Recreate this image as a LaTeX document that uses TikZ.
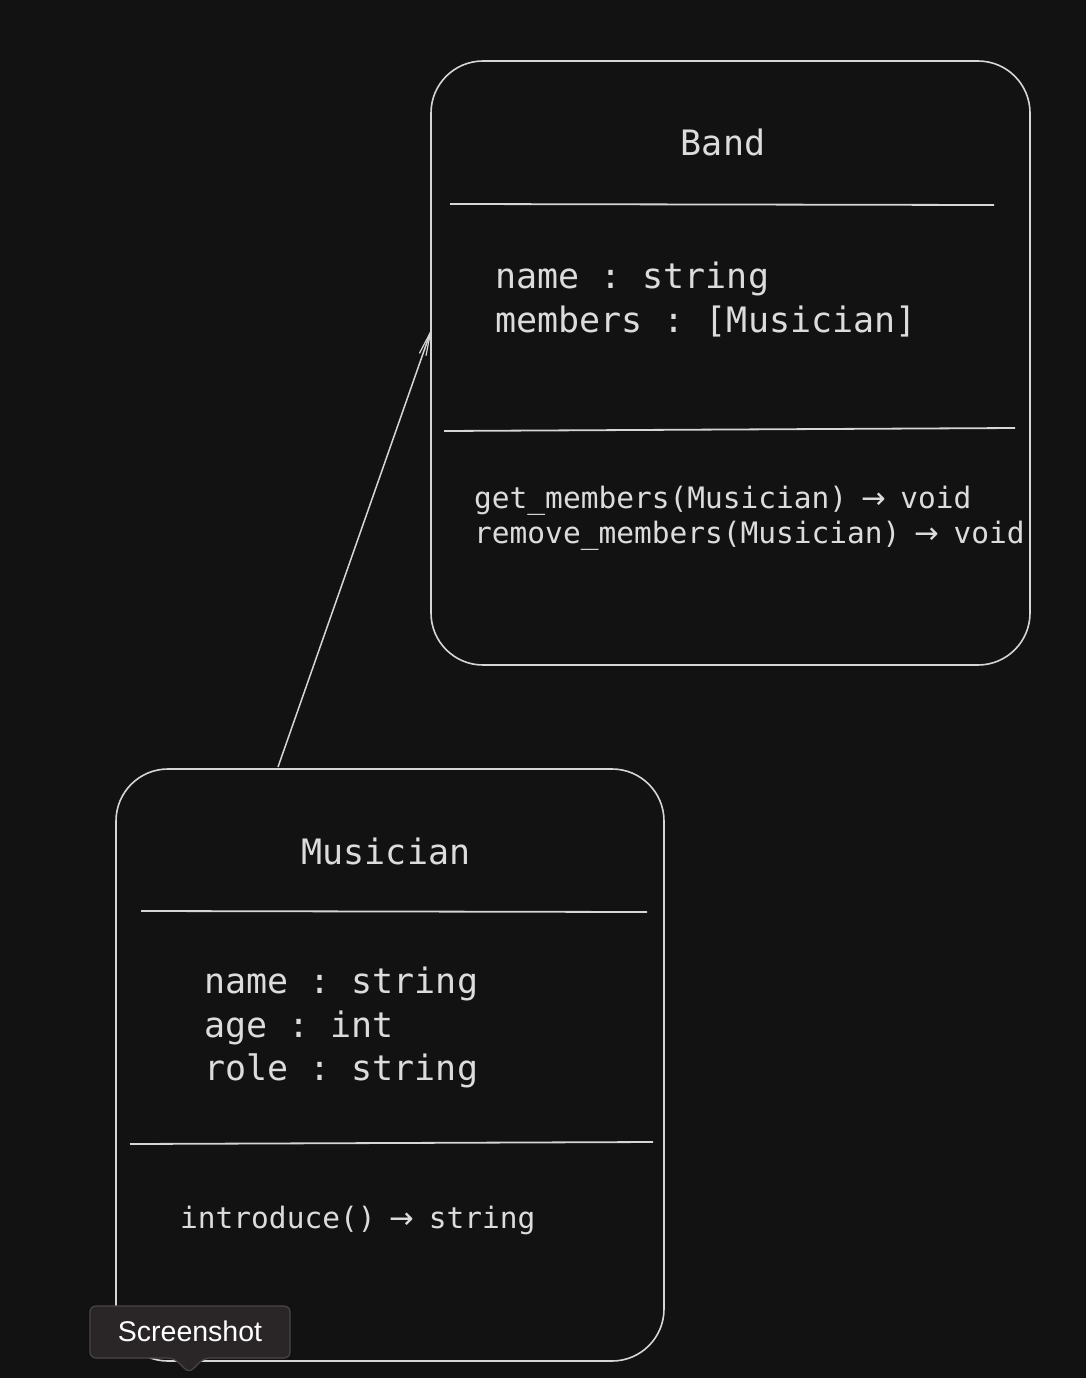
\documentclass[tikz,border=0pt]{standalone}
\usepackage{fontspec}
\setmonofont{DejaVu Sans Mono}
\newfontfamily\tipfont{Liberation Sans}
\newfontfamily\arrowfont{DejaVu Sans}
\usetikzlibrary{arrows.meta}
\definecolor{bg}{HTML}{121212}
\definecolor{ink}{HTML}{D6D6D6}
\definecolor{txt}{HTML}{DCDCDC}
\definecolor{tipfill}{HTML}{2A2627}
\definecolor{tipedge}{HTML}{4A4647}
\newcommand{\retarrow}{\makebox[0.6em][c]{\arrowfont →}}
\begin{document}
\begin{tikzpicture}[x=1pt,y=-1pt,
  classbox/.style={draw=ink, line width=1.6pt, rounded corners=52pt, inner sep=0pt},
  divider/.style={draw=ink, line width=1.8pt},
  title/.style={text=txt, font=\ttfamily\fontsize{35}{42}\selectfont, anchor=base, inner sep=0pt},
  attr/.style={text=txt, font=\ttfamily\fontsize{35}{42}\selectfont, anchor=base west, inner sep=0pt},
  meth/.style={text=txt, font=\ttfamily\fontsize{29.5}{35}\selectfont, anchor=base west, inner sep=0pt},
  link/.style={draw=ink, line width=1.5pt, -{Straight Barb[length=24pt,width=7pt,line width=1.2pt]}}
]
\fill[bg] (0,0) rectangle (1086,1378);
\useasboundingbox (0,0) rectangle (1086,1378);

% Band class
\node[classbox, minimum width=599pt, minimum height=604pt] (band) at (730.5,363) {};
\node[title] (bandT) at (723,155) {Band};
\draw[divider] (450,204) -- (994,205);
\node[attr] (bandA1) at (495,288) {name : string};
\node[attr] (bandA2) at (495,332) {members : [Musician]};
\draw[divider] (444,431) -- (1015,428);
\node[meth] (bandM1) at (474,508) {get\_members(Musician) \retarrow{} void};
\node[meth] (bandM2) at (474,543) {remove\_members(Musician) \retarrow{} void};

% Musician class
\node[classbox, minimum width=548pt, minimum height=592pt] (mus) at (390,1065) {};
\node[title] (musT) at (386,864) {Musician};
\draw[divider] (141,911) -- (647,912);
\node[attr] (musA1) at (204,993) {name : string};
\node[attr] (musA2) at (204,1037) {age : int};
\node[attr] (musA3) at (204,1080) {role : string};
\draw[divider] (130,1144) -- (653,1142);
\node[meth] (musM1) at (180,1228) {introduce() \retarrow{} string};

% connector
\coordinate (linkS) at (278,767);
\coordinate (linkE) at (432,328);
\draw[link] (linkS) -- (linkE);

% tooltip
\draw[draw=tipedge, fill=tipfill, line width=1.2pt, rounded corners=6pt]
  (90,1306) -- (290,1306) -- (290,1358) -- (204,1358) -- (189,1373) -- (174,1358) -- (90,1358) -- cycle;
\node[text=white, font=\tipfont\fontsize{28.5}{32}\selectfont, inner sep=0pt] (tip) at (190,1331) {Screenshot};
\end{tikzpicture}
\end{document}
